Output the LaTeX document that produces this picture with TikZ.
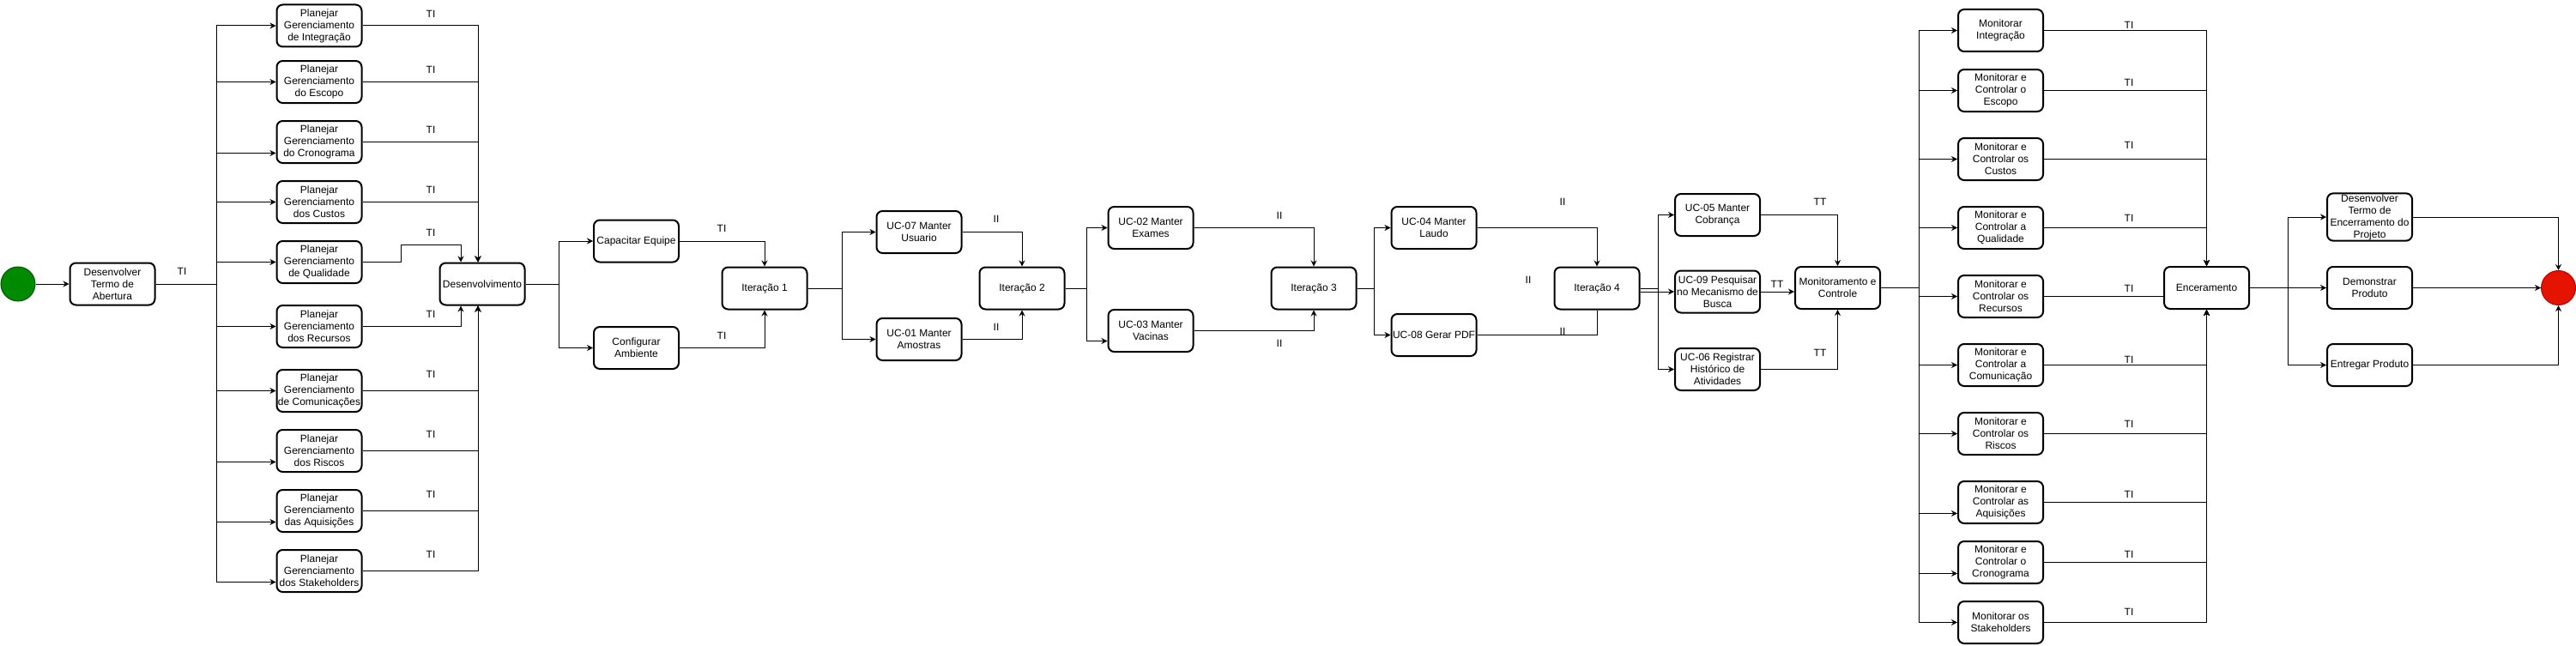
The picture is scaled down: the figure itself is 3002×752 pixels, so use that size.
\documentclass[tikz,border=0pt]{standalone}
\usepackage{fontspec}
\setmainfont{Liberation Sans}
\usetikzlibrary{arrows.meta}
\definecolor{verdeini}{HTML}{008A00}
\definecolor{verdeesc}{HTML}{005700}
\definecolor{vermfim}{HTML}{E51400}
\definecolor{vermesc}{HTML}{B20000}
\begin{document}
\begin{tikzpicture}[x=1pt, y=-1pt,
	caixa/.style = {draw, line width = 2pt, rounded corners = 7pt, minimum width = 99pt, minimum height = 49pt, inner xsep = 0.4pt, inner ysep = 1pt, align = center, font = \fontsize{12}{14}\selectfont},
	rot/.style = {inner sep = 0pt, font = \fontsize{12}{14}\selectfont},
	linha/.style = {line width = 1pt},
	seta/.style = {line width = 1pt, -{Stealth[length = 7pt, width = 7pt]}},
	inicio/.style = {circle, draw = verdeesc, fill = verdeini, line width = 1pt, minimum size = 40pt, inner sep = 0pt},
	fim/.style = {circle, draw = vermesc, fill = vermfim, line width = 1pt, minimum size = 40pt, inner sep = 0pt}]
\useasboundingbox (0,0) rectangle (3002,752);
% Inicio
\node[inicio] (ini) at (21,331) {};
\node[caixa] (dta) at (131,331) {Desenvolver\\Termo de\\Abertura};
\draw[seta] (ini) -- (dta);
\node[rot] (lDta) at (212,316) {TI};
% Planejamento
\coordinate (b1) at (252,331);
\draw[linha] (dta.east) -- (b1);
\node[caixa] (pInt) at (372,30) {Planejar\\Gerenciamento\\de Integração};
\node[caixa] (pEsc) at (372,95.5) {Planejar\\Gerenciamento\\do Escopo};
\node[caixa] (pCro) at (372,165.5) {Planejar\\Gerenciamento\\do Cronograma};
\node[caixa] (pCus) at (372,235.5) {Planejar\\Gerenciamento\\dos Custos};
\node[caixa] (pQua) at (372,305.5) {Planejar\\Gerenciamento\\de Qualidade};
\node[caixa] (pRec) at (372,380.5) {Planejar\\Gerenciamento\\dos Recursos};
\node[caixa] (pCom) at (372,455.5) {Planejar\\Gerenciamento\\de Comunicações};
\node[caixa] (pRis) at (372,525.5) {Planejar\\Gerenciamento\\dos Riscos};
\node[caixa] (pAqu) at (372,595.5) {Planejar\\Gerenciamento\\das Aquisições};
\node[caixa] (pSta) at (372,665.5) {Planejar\\Gerenciamento\\dos Stakeholders};
\draw[seta] (b1) |- (pInt.west);
\draw[seta] (b1) |- (pEsc.west);
\draw[seta] (b1) |- ([yshift=-13pt]pCro.west);
\draw[seta] (b1) |- (pCus.west);
\draw[seta] (b1) |- (pQua.west);
\draw[seta] (b1) |- (pRec.west);
\draw[seta] (b1) |- (pCom.west);
\draw[seta] (b1) |- ([yshift=-13pt]pRis.west);
\draw[seta] (b1) |- ([yshift=-13pt]pAqu.west);
\draw[seta] (b1) |- ([yshift=-13pt]pSta.west);
\node[caixa] (des) at (562,331) {Desenvolvimento};
\draw[seta] (pInt.east) -| ([xshift=-5pt]des.north);
\draw[seta] (pEsc.east) -| ([xshift=-5pt]des.north);
\draw[seta] (pCro.east) -| ([xshift=-5pt]des.north);
\draw[seta] (pCus.east) -| ([xshift=-5pt]des.north);
\draw[seta] (pQua.east) -| ++(45,-20) -| ([xshift=-25pt]des.north);
\draw[seta] (pRec.east) -| ([xshift=-25pt]des.south);
\draw[seta] (pCom.east) -| ([xshift=-5pt]des.south);
\draw[seta] (pRis.east) -| ([xshift=-5pt]des.south);
\draw[seta] (pAqu.east) -| ([xshift=-5pt]des.south);
\draw[seta] (pSta.east) -| ([xshift=-5pt]des.south);
\node[rot] (lInt) at (502,16) {TI};
\node[rot] (lEsc) at (502,81) {TI};
\node[rot] (lCro) at (502,151) {TI};
\node[rot] (lCus) at (502,221) {TI};
\node[rot] (lQua) at (502,271) {TI};
\node[rot] (lRec) at (502,366) {TI};
\node[rot] (lCom) at (502,436) {TI};
\node[rot] (lRis) at (502,506) {TI};
\node[rot] (lAqu) at (502,576) {TI};
\node[rot] (lSta) at (502,646) {TI};
% Iteracao 1
\coordinate (b2) at (651,331);
\draw[linha] (des.east) -- (b2);
\node[caixa] (cap) at (741.5,281) {Capacitar Equipe};
\node[caixa] (cfg) at (741.5,405.5) {Configurar\\Ambiente};
\draw[seta] (b2) |- (cap.west);
\draw[seta] (b2) |- (cfg.west);
\node[caixa] (it1) at (891,336) {Iteração 1};
\draw[seta] (cap.east) -| (it1.north);
\draw[seta] (cfg.east) -| (it1.south);
\node[rot] (lCap) at (841,266) {TI};
\node[rot] (lCfg) at (841,391) {TI};
% Iteracao 2
\coordinate (b3) at (981,336);
\draw[linha] (it1.east) -- (b3);
\node[caixa] (uc7) at (1071,270.5) {UC-07 Manter\\Usuario};
\node[caixa] (uc1) at (1071,395.5) {UC-01 Manter\\Amostras};
\draw[seta] (b3) |- (uc7.west);
\draw[seta] (b3) |- (uc1.west);
\node[caixa] (it2) at (1191,336) {Iteração 2};
\draw[seta] (uc7.east) -| (it2.north);
\draw[seta] (uc1.east) -| (it2.south);
\node[rot] (lUc7) at (1161,255) {II};
\node[rot] (lUc1) at (1161,381) {II};
% Iteracao 3
\coordinate (b4) at (1266,336);
\draw[linha] (it2.east) -- (b4);
\node[caixa] (uc2) at (1341,265.5) {UC-02 Manter\\Exames};
\node[caixa] (uc3) at (1341,385.5) {UC-03 Manter\\Vacinas};
\draw[seta] (b4) |- (uc2.west);
\draw[seta] (b4) |- ([yshift=-12pt]uc3.west);
\node[caixa] (it3) at (1531,336) {Iteração 3};
\draw[seta] (uc2.east) -| (it3.north);
\draw[seta] (uc3.east) -| (it3.south);
\node[rot] (lUc2) at (1491,251) {II};
\node[rot] (lUc3) at (1491,400) {II};
% Iteracao 4
\coordinate (b5) at (1601,336);
\draw[linha] (it3.east) -- (b5);
\node[caixa] (uc4) at (1671,265.5) {UC-04 Manter\\Laudo};
\node[caixa] (uc8) at (1671,390.5) {UC-08 Gerar PDF};
\draw[seta] (b5) |- (uc4.west);
\draw[seta] (b5) |- (uc8.west);
\node[caixa] (it4) at (1861,336) {Iteração 4};
\draw[seta] (uc4.east) -| (it4.north);
\draw[linha] (uc8.east) -| (it4.south);
\node[rot] (lUc4) at (1821,235) {II};
\node[rot] (lIt4) at (1781,326) {II};
\node[rot] (lUc8) at (1821,386) {II};
% Monitoramento e Controle
\coordinate (b6) at (1932,336);
\draw[linha] (it4.east) -- (b6);
\node[caixa] (uc5) at (2001.5,250.5) {UC-05 Manter\\Cobrança};
\node[caixa] (uc9) at (2001.5,340) {UC-09 Pesquisar\\no Mecanismo de\\Busca};
\node[caixa] (uc6) at (2001.5,430.5) {UC-06 Registrar\\Histórico de\\Atividades};
\draw[seta] (b6) |- (uc5.west);
\draw[seta] ([yshift=-4pt]it4.east) -- (uc9.west);
\draw[seta] (b6) |- (uc6.west);
\node[caixa] (mon) at (2141.5,335.5) {Monitoramento e\\Controle};
\draw[seta] (uc5.east) -| (mon.north);
\draw[seta] (uc9.east) -- (uc9.east -| mon.west);
\draw[seta] (uc6.east) -| (mon.south);
\node[rot] (lUc5) at (2121,235) {TT};
\node[rot] (lUc9) at (2071,331) {TT};
\node[rot] (lUc6) at (2121,411) {TT};
% Monitorar
\coordinate (b7) at (2236.5,335.5);
\draw[linha] (mon.east) -- (b7);
\node[caixa] (mInt) at (2331.5,35.5) {Monitorar\\Integração};
\node[caixa] (mEsc) at (2331.5,105.5) {Monitorar e\\Controlar o\\Escopo};
\node[caixa] (mCus) at (2331.5,185.5) {Monitorar e\\Controlar os\\Custos};
\node[caixa] (mQua) at (2331.5,265.5) {Monitorar e\\Controlar a\\Qualidade};
\node[caixa] (mRec) at (2331.5,345.5) {Monitorar e\\Controlar os\\Recursos};
\node[caixa] (mCom) at (2331.5,425.5) {Monitorar e\\Controlar a\\Comunicação};
\node[caixa] (mRis) at (2331.5,505.5) {Monitorar e\\Controlar os\\Riscos};
\node[caixa] (mAqu) at (2331.5,585.5) {Monitorar e\\Controlar as\\Aquisições};
\node[caixa] (mCro) at (2331.5,655.5) {Monitorar e\\Controlar o\\Cronograma};
\node[caixa] (mSta) at (2331.5,725.5) {Monitorar os\\Stakeholders};
\draw[seta] (b7) |- (mInt.west);
\draw[seta] (b7) |- (mEsc.west);
\draw[seta] (b7) |- (mCus.west);
\draw[seta] (b7) |- (mQua.west);
\draw[seta] (b7) |- (mRec.west);
\draw[seta] (b7) |- (mCom.west);
\draw[seta] (b7) |- (mRis.west);
\draw[seta] (b7) |- ([yshift=-13pt]mAqu.west);
\draw[seta] (b7) |- ([yshift=-13pt]mCro.west);
\draw[seta] (b7) |- (mSta.west);
\node[caixa] (enc) at (2571.5,335.5) {Enceramento};
\draw[seta] (mInt.east) -| (enc.north);
\draw[seta] (mEsc.east) -| (enc.north);
\draw[seta] (mCus.east) -| (enc.north);
\draw[seta] (mQua.east) -| (enc.north);
\draw[linha] (mRec.east) -- (mRec.east -| enc.west);
\draw[seta] (mCom.east) -| (enc.south);
\draw[seta] (mRis.east) -| (enc.south);
\draw[seta] (mAqu.east) -| (enc.south);
\draw[seta] (mCro.east) -| (enc.south);
\draw[seta] (mSta.east) -| (enc.south);
\node[rot] (lmInt) at (2481,29) {TI};
\node[rot] (lmEsc) at (2481,96) {TI};
\node[rot] (lmCus) at (2481,169) {TI};
\node[rot] (lmQua) at (2481,254) {TI};
\node[rot] (lmRec) at (2481,336) {TI};
\node[rot] (lmCom) at (2481,419) {TI};
\node[rot] (lmRis) at (2481,494) {TI};
\node[rot] (lmAqu) at (2481,576) {TI};
\node[rot] (lmCro) at (2481,646) {TI};
\node[rot] (lmSta) at (2481,713) {TI};
% Encerramento
\coordinate (b8) at (2666,335.5);
\node[caixa] (dte) at (2761.5,253) {Desenvolver\\Termo de\\Encerramento do\\Projeto};
\node[caixa] (dem) at (2761.5,335.5) {Demonstrar\\Produto};
\node[caixa] (ent) at (2761.5,425.5) {Entregar Produto};
\draw[seta] (enc.east) -- (dem.west);
\draw[seta] (b8) |- (dte.west);
\draw[seta] (b8) |- (ent.west);
\node[fim] (fimp) at (2981.5,335.5) {};
\draw[seta] (dte.east) -| (fimp.north);
\draw[seta] (dem.east) -- (fimp.west);
\draw[seta] (ent.east) -| (fimp.south);
\end{tikzpicture}
\end{document}
